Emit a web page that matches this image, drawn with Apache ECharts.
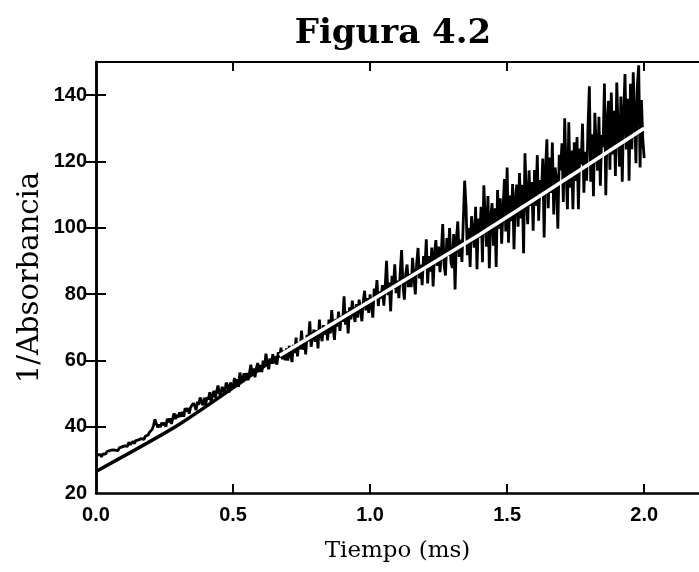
<!DOCTYPE html>
<html>
<head>
<meta charset="utf-8">
<script src="https://cdn.jsdelivr.net/npm/echarts@6/dist/echarts.min.js"></script>
<style>
html,body{margin:0;padding:0;background:#fff;}
#chart{width:699px;height:572px;}
</style>
</head>
<body>
<div id="chart"></div>
<script>
// ---- data ----
const titleText = 'Figura 4.2';
const xName = 'Tiempo (ms)';
const yName = '1/Absorbancia';
const xTicks = [0.0, 0.5, 1.0, 1.5, 2.0];
const yTicks = [20, 40, 60, 80, 100, 120, 140];
const sampleStart = 0.0;     // ms
const sampleStep = 0.005;    // ms between samples
// measured 1/A trace, sampled every 0.005 ms from 0 to 2.0 ms
const absInv = [
32.3,31.5,31.0,31.6,30.9,31.8,32.2,31.7,32.5,32.0,
32.8,32.3,33.0,32.4,32.9,33.4,32.8,33.6,33.1,33.9,
33.4,34.2,34.8,34.1,35.3,34.6,35.0,35.6,34.9,35.8,
35.3,36.0,35.6,36.4,36.9,36.2,37.1,36.7,37.5,38.3,
37.8,39.2,40.4,42.2,41.0,39.8,40.6,39.9,41.2,40.5,
41.2,40.0,42.4,41.3,42.5,40.8,42.5,44.0,42.3,43.6,
42.8,44.3,43.0,44.5,43.0,45.6,44.6,45.6,43.9,45.8,
45.2,47.1,46.4,45.0,47.5,46.6,48.8,47.5,46.5,48.7,
46.6,48.9,48.2,50.4,47.5,49.5,50.8,48.7,50.5,52.4,
50.2,49.1,52.0,51.2,50.3,53.3,52.2,50.3,53.3,52.5,
51.6,54.7,52.8,54.3,52.0,56.3,54.3,53.5,56.1,54.5,
56.2,54.0,56.2,58.7,55.6,57.6,54.9,57.6,59.2,56.5,
58.6,56.5,59.9,58.1,62.0,59.3,57.3,60.6,59.0,61.9,
59.1,61.2,58.7,62.5,60.9,63.8,60.3,62.9,60.0,63.6,
59.9,64.4,61.9,59.5,64.7,62.2,66.9,61.2,65.5,63.4,
69.0,63.2,66.4,61.8,67.7,65.8,71.8,64.1,67.0,69.3,
65.6,69.1,63.6,72.3,67.9,65.8,70.6,67.7,70.4,66.0,
72.3,68.1,75.2,70.0,66.2,72.5,70.2,74.7,68.9,73.4,
71.7,79.3,70.8,74.8,68.1,76.0,72.4,78.0,74.3,71.6,
77.0,72.9,78.3,75.6,71.8,77.6,81.0,75.1,78.8,74.3,
79.9,76.5,72.9,81.7,78.6,84.2,76.4,80.8,78.7,82.7,
76.5,82.0,90.0,79.7,83.5,74.8,85.5,81.6,89.0,80.3,
84.1,78.8,86.6,93.3,82.6,78.3,86.1,88.9,82.1,86.1,
82.1,90.9,85.2,79.9,89.2,93.9,84.7,88.9,82.7,91.5,
87.7,96.5,83.2,91.5,86.8,94.0,82.3,92.0,96.3,88.5,
94.3,86.6,92.8,101.1,88.8,85.6,96.9,91.6,99.9,89.6,
87.9,98.1,81.4,96.6,101.9,91.2,96.4,89.7,101.9,114.2,
106.5,91.7,100.0,88.2,103.5,98.8,94.0,106.3,87.5,102.8,
97.0,106.3,89.6,112.8,103.1,94.3,109.6,87.8,103.1,107.4,
94.6,105.9,88.2,111.4,99.7,108.9,95.2,105.4,114.7,98.9,
118.2,95.5,109.7,102.0,113.2,93.5,108.7,113.0,100.3,116.5,
102.8,113.0,92.3,122.5,109.8,101.1,117.3,106.6,113.8,99.1,
117.4,106.6,121.9,102.1,114.4,109.6,120.9,97.1,117.4,126.7,
105.9,121.2,110.5,125.7,104.0,118.2,114.5,99.7,122.0,117.3,
125.5,107.8,133.0,117.3,105.6,131.8,112.1,123.3,105.6,125.8,
114.1,127.4,105.6,123.9,119.1,131.4,110.6,122.9,114.2,130.4,
142.7,113.9,128.2,109.5,134.7,124.0,117.2,133.5,112.7,128.0,
124.3,143.5,109.8,132.0,138.3,117.5,140.8,122.1,135.3,115.6,
143.8,129.1,118.4,139.6,113.9,134.1,146.4,123.6,138.9,114.2,
143.4,123.7,146.9,134.2,119.5,142.7,149.0,118.2,138.5,126.7,
121.0
];
// fitted line; drawn dark up to fitSplit, white after
const fitTime = [0.0, 0.3, 0.67, 1.4, 2.0];
const fitValue = [26.5, 40.5, 61.5, 98.0, 130.0];
const fitSplit = 2; // index where the fit line turns white

// ---- build ----
const traceData = absInv.map((v, i) => [sampleStart + i * sampleStep, v]);
const fitData = fitTime.map((t, i) => [t, fitValue[i]]);
const fitDark = fitData.slice(0, fitSplit + 1);
const fitLight = fitData.slice(fitSplit);

const labelFont = {fontFamily: 'Liberation Sans', fontWeight: 'bold', fontSize: 20, color: '#000'};
const xNameFont = {fontFamily: 'DejaVu Serif', fontSize: 23, color: '#000'};
const yNameFont = {fontFamily: 'DejaVu Serif', fontSize: 29, color: '#000'};
const lineSt = {color: '#000', width: 2.5};

const chart = echarts.init(document.getElementById('chart'), null, {renderer: 'canvas'});
chart.setOption({
  animation: false,
  backgroundColor: '#fff',
  title: {
    text: titleText,
    left: 388, top: 12,
    textAlign: 'center',
    textStyle: {fontFamily: 'DejaVu Serif', fontWeight: 'bold', fontSize: 34, color: '#000'}
  },
  grid: {left: 96, right: -3, top: 62, bottom: 79},
  xAxis: [{
    type: 'value', min: 0, max: 2.2, interval: 0.5, position: 'bottom',
    name: xName, nameLocation: 'middle', nameGap: 47, nameMoveOverlap: false, nameTextStyle: xNameFont,
    axisLine: {lineStyle: lineSt},
    axisTick: {inside: true, length: 9, customValues: xTicks.slice(1), lineStyle: {color: '#000', width: 2}},
    axisLabel: Object.assign({margin: 12, customValues: xTicks,
      formatter: v => v.toFixed(1)}, labelFont),
    splitLine: {show: false}
  }, {
    type: 'value', min: 0, max: 2.2, interval: 0.5, position: 'top',
    axisLine: {lineStyle: {color: '#000', width: 2}},
    axisTick: {inside: true, length: 9, customValues: xTicks.slice(1), lineStyle: {color: '#000', width: 2}},
    axisLabel: {show: false}, splitLine: {show: false}
  }],
  yAxis: [{
    type: 'value', min: 20, max: 150, interval: 20, position: 'left',
    name: yName, nameLocation: 'middle', nameGap: 51, nameMoveOverlap: false, nameRotate: 90, nameTextStyle: yNameFont,
    axisLine: {lineStyle: lineSt},
    axisTick: {inside: true, length: 10, customValues: yTicks.slice(1), lineStyle: {color: '#000', width: 2}},
    axisLabel: Object.assign({margin: 9, customValues: yTicks,
      formatter: v => String(v)}, labelFont),
    splitLine: {show: false}
  }, {
    type: 'value', min: 20, max: 150, interval: 20, position: 'right',
    axisLine: {lineStyle: lineSt},
    axisTick: {inside: true, length: 10, customValues: yTicks.slice(1), lineStyle: {color: '#000', width: 2}},
    axisLabel: {show: false}, splitLine: {show: false}
  }],
  series: [{
    type: 'line', data: traceData, showSymbol: false, symbol: 'none',
    lineStyle: {color: '#000', width: 2.8}, z: 2
  }, {
    type: 'line', data: fitDark, showSymbol: false, symbol: 'none', smooth: 0.2,
    lineStyle: {color: '#000', width: 3.5}, z: 3
  }, {
    type: 'line', data: fitLight, showSymbol: false, symbol: 'none', smooth: 0.2,
    lineStyle: {color: '#fff', width: 3.5}, z: 3
  }]
});
</script>
</body>
</html>
